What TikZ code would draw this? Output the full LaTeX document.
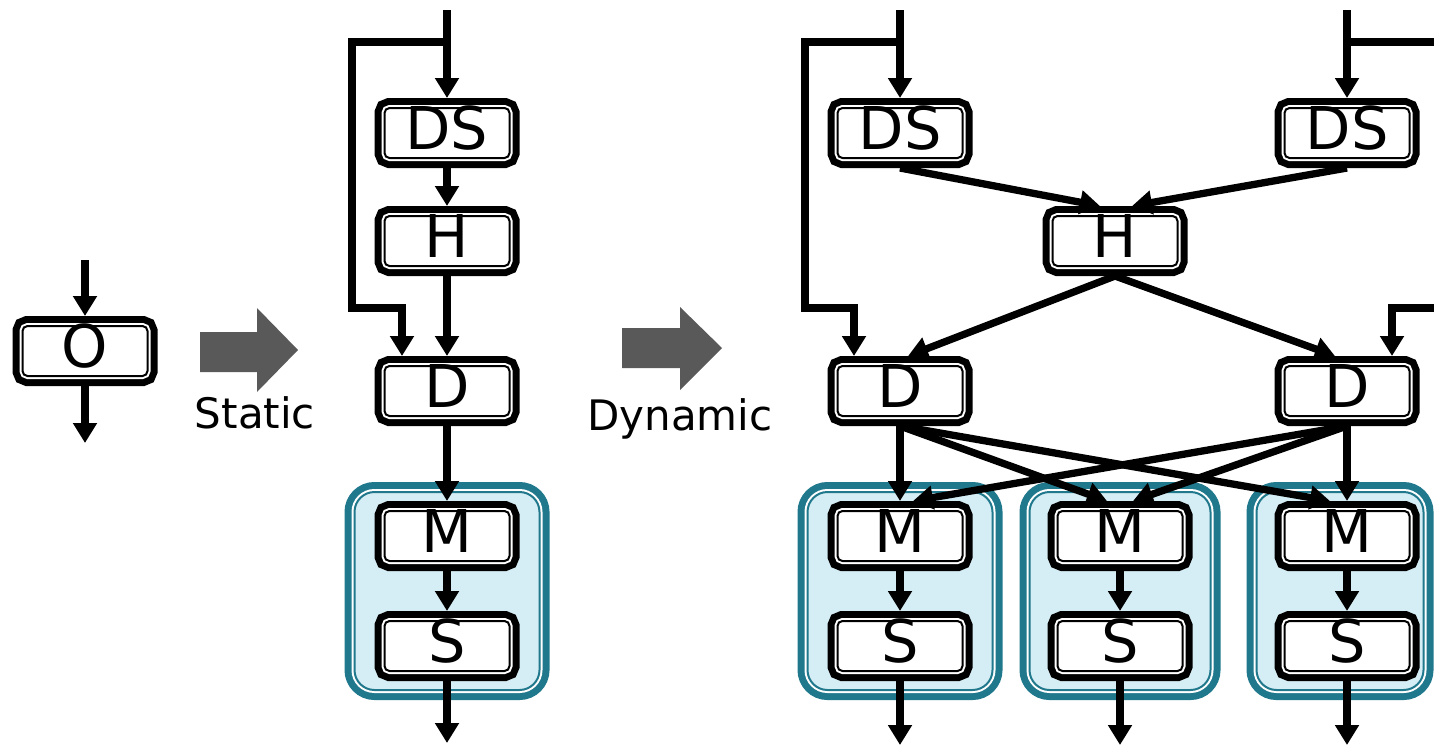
\documentclass[tikz,border=0pt]{standalone}
\usepackage{fontspec}
\setmainfont{DejaVu Sans}
\usetikzlibrary{arrows.meta,calc,fit,backgrounds}
\definecolor{tealline}{RGB}{31,120,140}
\definecolor{grpfill}{RGB}{213,237,244}
\definecolor{bigarrow}{RGB}{89,89,89}
\begin{document}
\begin{tikzpicture}[x=1pt,y=-1pt,
  box/.style={fill=white, draw=black, line width=2pt, rounded corners=5pt,
    minimum width=125pt, minimum height=50pt, inner sep=0pt, outer sep=10pt,
    preaction={draw=black, line width=20pt},
    preaction={draw=white, line width=6pt},
    font=\fontsize{59}{59}\selectfont, text height=40pt, text depth=7pt},
  grp/.style={fill=grpfill, draw=tealline, line width=2pt, rounded corners=20pt,
    inner xsep=20pt, inner ysep=9pt, outer sep=0pt,
    preaction={draw=tealline, line width=20pt},
    preaction={draw=white, line width=6pt}},
  arr/.style={line width=7.3pt, -{Triangle[width=23pt,length=20pt]}},
  lbl/.style={font=\fontsize{42}{42}\selectfont, inner sep=0pt},
  bigarr/.style={fill=bigarrow}]
\useasboundingbox (0,0) rectangle (1434,747);

% original operator
\node[box] (O) at (85,351) {O};
\coordinate (Oin) at (85,260);
\coordinate (Oout) at (85,443);
\draw[arr] (Oin) -- (O.north);
\draw[arr] (O.south) -- (Oout);

% big arrows and labels
\fill[bigarr] (200,332) -- (257,332) -- (257,308) -- (298,350) -- (257,392) -- (257,372) -- (200,372) -- cycle;
\node[lbl, anchor=base] (st) at (255,428) {Static};
\fill[bigarr] (622,328) -- (680,328) -- (680,307) -- (722,348) -- (680,390) -- (680,368) -- (622,368) -- cycle;
\node[lbl, anchor=base] (dy) at (680,430) {Dynamic};

% static column
\node[box] (DS1) at (447,133) {DS};
\node[box] (H1) at (447,241) {H};
\node[box] (D1) at (447,391) {D};
\node[box] (M1) at (447,536) {M};
\node[box] (S1) at (447,646) {S};
\begin{scope}[on background layer]
  \node[grp, fit=(M1)(S1)] (G1) {};
\end{scope}
\coordinate (inS) at (447,10);
\coordinate (brS) at (447,42);
\coordinate (outS) at (447,743);
\draw[arr] (inS) -- (DS1.north);
\draw[arr] (brS) -- (352,42) -- (352,308) -- (402,308) -- ($(D1.north)+(-45,0)$);
\draw[arr] (DS1.south) -- (H1.north);
\draw[arr] (H1.south) -- (D1.north);
\draw[arr] (D1.south) -- (M1.north);
\draw[arr] (M1.south) -- (S1.north);
\draw[arr] (S1.south) -- (outS);

% dynamic
\node[box] (DSa) at (900,133) {DS};
\node[box] (DSb) at (1347,133) {DS};
\node[box] (Hd) at (1115,241) {H};
\node[box] (Da) at (900,391) {D};
\node[box] (Db) at (1347,391) {D};
\node[box] (Ma) at (900,536) {M};
\node[box] (Sa) at (900,646) {S};
\node[box] (Mb) at (1120,536) {M};
\node[box] (Sb) at (1120,646) {S};
\node[box] (Mc) at (1347,536) {M};
\node[box] (Sc) at (1347,646) {S};
\begin{scope}[on background layer]
  \node[grp, fit=(Ma)(Sa)] (Ga) {};
  \node[grp, fit=(Mb)(Sb), inner xsep=18pt] (Gb) {};
  \node[grp, fit=(Mc)(Sc), inner xsep=11pt, xshift=-7pt] (Gc) {};
\end{scope}

\coordinate (inA) at (900,10);
\coordinate (brA) at (900,42);
\coordinate (inB) at (1347,10);
\coordinate (brB) at (1347,42);
\coordinate (edgeTop) at (1440,42);
\coordinate (edgeLow) at (1440,308);
\draw[arr] (inA) -- (DSa.north);
\draw[arr] (brA) -- (805,42) -- (805,308) -- (854,308) -- ($(Da.north)+(-46,0)$);
\draw[arr] (inB) -- (DSb.north);
\draw[line width=7.3pt] (brB) -- (edgeTop);
\draw[arr] (edgeLow) -- (1392,308) -- ($(Db.north)+(45,0)$);

\draw[arr] (DSa.south) -- ($(Hd.north)+(-15,0)$);
\draw[arr] (DSb.south) -- ($(Hd.north)+(17,0)$);
\draw[arr] (Hd.south) -- ($(Da.north)+(8,0)$);
\draw[arr] (Hd.south) -- ($(Db.north)+(-12,0)$);

\draw[arr] (Da.south) -- (Ma.north);
\draw[arr] (Da.south) -- ($(Mb.north)+(-13,0)$);
\draw[arr] (Da.south) -- ($(Mc.north)+(-17,0)$);
\draw[arr] (Db.south) -- ($(Ma.north)+(13,0)$);
\draw[arr] (Db.south) -- ($(Mb.north)+(13,0)$);
\draw[arr] (Db.south) -- (Mc.north);

\coordinate (outA) at (900,745);
\coordinate (outB) at (1120,745);
\coordinate (outC) at (1347,745);
\draw[arr] (Ma.south) -- (Sa.north);
\draw[arr] (Mb.south) -- (Sb.north);
\draw[arr] (Mc.south) -- (Sc.north);
\draw[arr] (Sa.south) -- (outA);
\draw[arr] (Sb.south) -- (outB);
\draw[arr] (Sc.south) -- (outC);
\end{tikzpicture}
\end{document}
